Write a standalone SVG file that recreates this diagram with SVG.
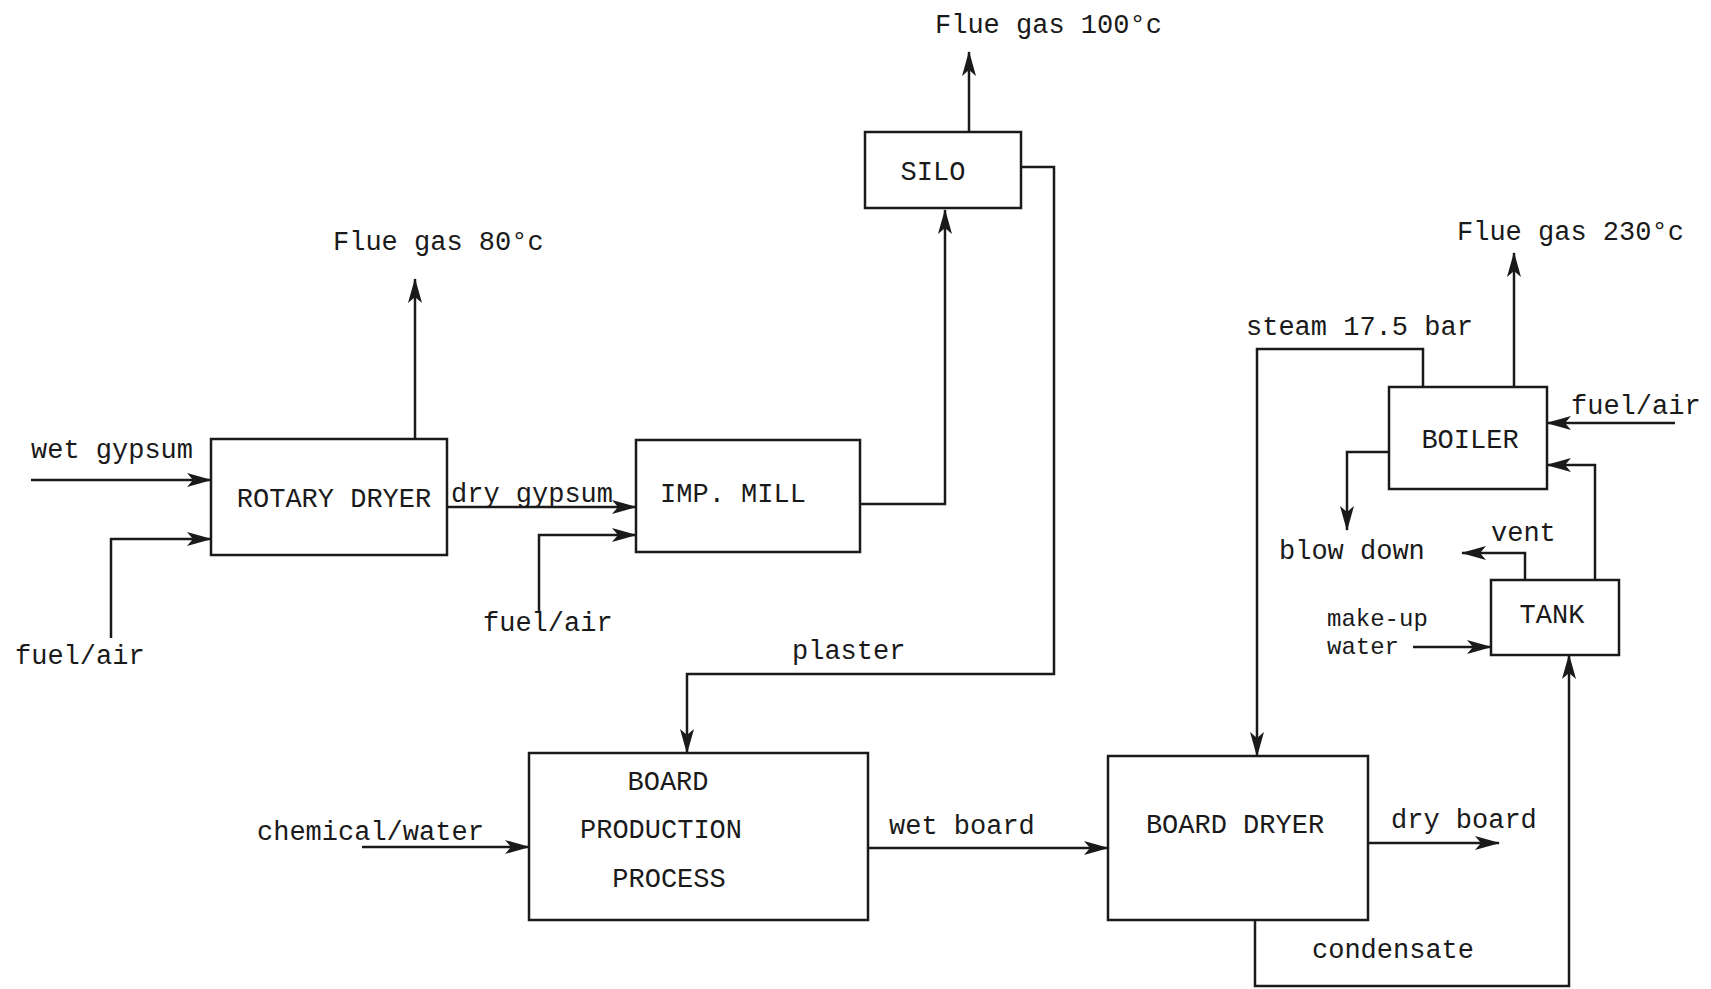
<svg xmlns="http://www.w3.org/2000/svg" width="1711" height="989" viewBox="0 0 1711 989">
<style>
text{font-family:"Liberation Mono","DejaVu Sans Mono",monospace;font-size:27px;fill:#1a1a1a}
.box{fill:#fff;stroke:#1a1a1a;stroke-width:2.5}
.ln{fill:none;stroke:#1a1a1a;stroke-width:2.5;marker-end:url(#ah)}
.c{text-anchor:middle}
.sm{font-size:24px}
</style>
<defs>
<marker id="ah" markerUnits="userSpaceOnUse" markerWidth="26" markerHeight="16" refX="24" refY="8" orient="auto">
<path d="M0,1 L25,8 L0,15 L6,8 z" fill="#1a1a1a"/>
</marker>
</defs>
<rect width="1711" height="989" fill="#fff"/>
<g id="connectors">
<path class="ln" d="M969,132 V52"/>
<path class="ln" d="M860,504 H945 V210"/>
<path class="ln" d="M1021,167 H1054 V674 H687 V753"/>
<path class="ln" d="M415,439 V279"/>
<path class="ln" d="M31,480 H211"/>
<path class="ln" d="M111,638 V539 H211"/>
<path class="ln" d="M447,507 H636"/>
<path class="ln" d="M539,611 V535 H636"/>
<path class="ln" d="M362,847 H529"/>
<path class="ln" d="M868,848 H1108"/>
<path class="ln" d="M1368,843 H1499"/>
<path class="ln" d="M1255,920 V986 H1569 V655"/>
<path class="ln" d="M1423,387 V349 H1257 V756"/>
<path class="ln" d="M1514,387 V253"/>
<path class="ln" d="M1675,423 H1547"/>
<path class="ln" d="M1389,452 H1347 V530"/>
<path class="ln" d="M1525,580 V553 H1462"/>
<path class="ln" d="M1595,580 V465 H1547"/>
<path class="ln" d="M1413,647 H1491"/>
</g>
<g id="labels">
<text x="935" y="33">Flue gas 100°c</text>
<text x="333" y="250">Flue gas 80°c</text>
<text x="1457" y="240">Flue gas 230°c</text>
<text x="31" y="458">wet gypsum</text>
<text x="15" y="664">fuel/air</text>
<text x="451" y="502">dry gypsum</text>
<text x="483" y="631">fuel/air</text>
<text x="792" y="659">plaster</text>
<text x="257" y="840">chemical/water</text>
<text x="889" y="834">wet board</text>
<text x="1391" y="828">dry board</text>
<text x="1312" y="958">condensate</text>
<text x="1246" y="335">steam 17.5 bar</text>
<text x="1571" y="414">fuel/air</text>
<text x="1279" y="559">blow down</text>
<text x="1491" y="541">vent</text>
<text class="sm" x="1327" y="626">make-up</text>
<text class="sm" x="1327" y="654">water</text>
</g>
<g id="silo"><rect class="box" x="865" y="132" width="156" height="76"/><text class="c" x="933" y="180">SILO</text></g>
<g id="rotary-dryer"><rect class="box" x="211" y="439" width="236" height="116"/><text class="c" x="334" y="507">ROTARY DRYER</text></g>
<g id="imp-mill"><rect class="box" x="636" y="440" width="224" height="112"/><text class="c" x="733" y="502">IMP. MILL</text></g>
<g id="board-production"><rect class="box" x="529" y="753" width="339" height="167"/><text class="c" x="668" y="790">BOARD</text><text class="c" x="661" y="838">PRODUCTION</text><text class="c" x="669" y="887">PROCESS</text></g>
<g id="board-dryer"><rect class="box" x="1108" y="756" width="260" height="164"/><text class="c" x="1235" y="833">BOARD DRYER</text></g>
<g id="boiler"><rect class="box" x="1389" y="387" width="158" height="102"/><text class="c" x="1470" y="448">BOILER</text></g>
<g id="tank"><rect class="box" x="1491" y="580" width="128" height="75"/><text class="c" x="1552" y="623">TANK</text></g>
</svg>
